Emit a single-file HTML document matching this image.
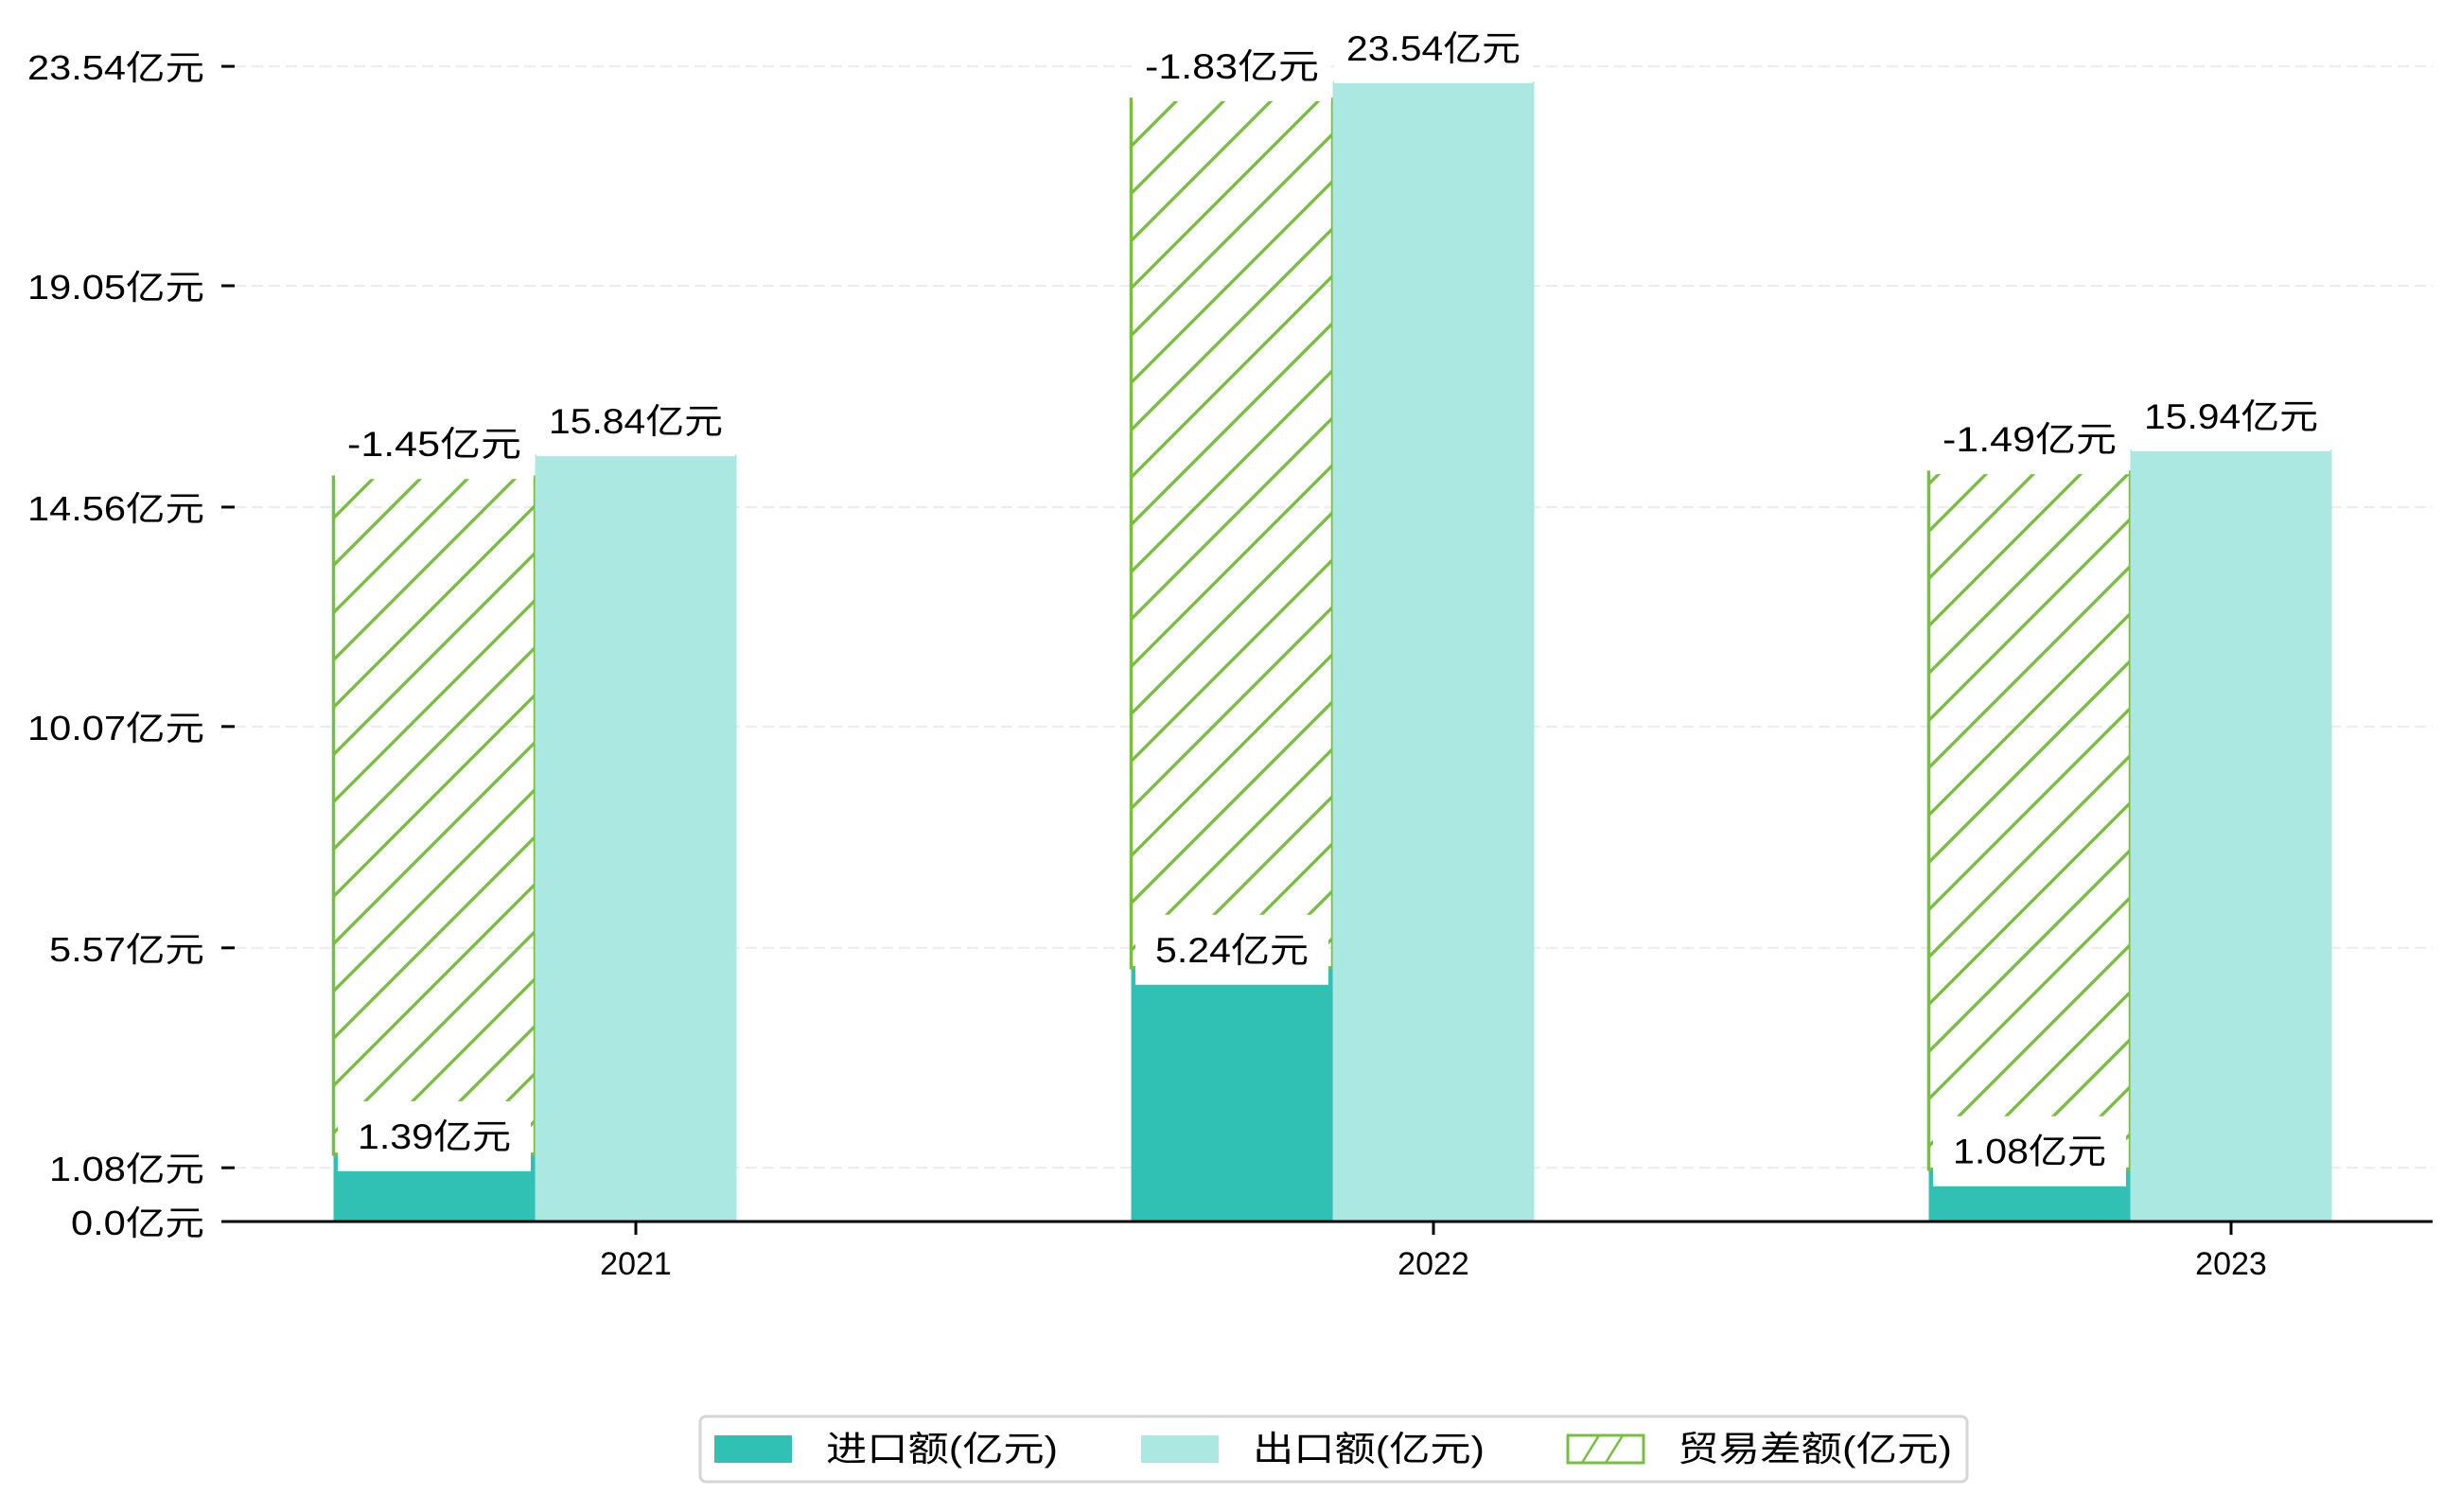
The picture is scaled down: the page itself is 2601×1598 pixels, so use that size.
<!DOCTYPE html>
<html><head><meta charset="utf-8"><style>
html,body{margin:0;padding:0;background:#fff;}
svg{display:block;}
text{font-family:"Liberation Sans","Noto Sans CJK SC",sans-serif;fill:#000;}
</style></head><body>
<svg id="chart" width="2601" height="1598" viewBox="0 0 2601 1598" xmlns="http://www.w3.org/2000/svg">
<defs>
<pattern id="hatch" patternUnits="userSpaceOnUse" width="50" height="50">
<path d="M0,50 L50,0 M-10,10 L10,-10 M40,60 L60,40" stroke="#78be42" stroke-width="3.4"/>
</pattern>
</defs>
<g id="grid"></g>
<g id="bars"></g>
<g id="labels"></g>
<g id="axes"></g>
<g>
<rect x="740" y="1497" width="1339" height="69" rx="6" fill="#fff" stroke="#d6d6d6" stroke-width="3"/>
<g>
<rect x="755" y="1517" width="82" height="29" fill="#30c0b4"/>
<text x="873" y="1544" font-size="37" textLength="245" lengthAdjust="spacingAndGlyphs">进口额(亿元)</text></g>
<g>
<rect x="1206" y="1517" width="82" height="29" fill="#abe8e2"/>
<text x="1324" y="1544" font-size="37" textLength="245" lengthAdjust="spacingAndGlyphs">出口额(亿元)</text></g>
<g>
<rect x="1657" y="1517" width="80" height="29" fill="#fff" stroke="#78be42" stroke-width="3"/>
<path d="M1672,1546 L1690,1517 M1697,1546 L1715,1517" stroke="#78be42" stroke-width="2.5"/>
<text x="1773" y="1544" font-size="37" textLength="290" lengthAdjust="spacingAndGlyphs">贸易差额(亿元)</text></g>
</g>
</svg>
<script>
const categories = ["2021", "2022", "2023"];
const importValues = [1.39, 5.24, 1.08];
const exportValues = [15.84, 23.54, 15.94];
const balanceValues = [-1.45, -1.83, -1.49];
const balanceBarTop = [15.37, 23.17, 15.47];
const tickValues = [0, 1.11, 5.65, 10.22, 14.75, 19.32, 23.85];
const tickLabels = ["0.0亿元", "1.08亿元", "5.57亿元", "10.07亿元", "14.56亿元", "19.05亿元", "23.54亿元"];

const NS = "http://www.w3.org/2000/svg";
const X0 = 248, X1 = 2571, BASE = 1291, SCALE = 51.19;
const y = v => BASE - v * SCALE;
const cx = i => 672 + i * 843;
const BW = 213;
function mk(tag, attrs, parent) {
  const e = document.createElementNS(NS, tag);
  for (const k in attrs) e.setAttribute(k, attrs[k]);
  parent.appendChild(e);
  return e;
}
const grid = document.getElementById('grid');
const bars = document.getElementById('bars');
const labels = document.getElementById('labels');
const axes = document.getElementById('axes');

tickValues.forEach((v, i) => {
  if (v > 0) {
    const g = mk('line', {x1: X0, x2: X1, y1: y(v), y2: y(v), stroke: '#ececec', 'stroke-width': 2, 'stroke-dasharray': '12,6'}, grid);
    
    
  }
  const t = mk('line', {x1: X0 - 14, x2: X0, y1: y(v), y2: y(v), stroke: '#000', 'stroke-width': 3}, axes);
  
  
  const lab = mk('text', {x: 216, y: y(v) + 14, 'font-size': 36, 'text-anchor': 'end', textLength: (tickLabels[i].length - 2) * 23 + 72, lengthAdjust: 'spacingAndGlyphs'}, axes);
  lab.textContent = tickLabels[i];
  
  
});

function labelBox(text, x, cy, w) {
  const r = mk('rect', {x: x - w / 2, y: cy - 36, width: w, height: 74, fill: '#fff'}, labels);
  
  
  const t = mk('text', {x: x, y: cy + 14, 'font-size': 37, 'text-anchor': 'middle', textLength: (text.length - 2) * 22 + 74, lengthAdjust: 'spacingAndGlyphs'}, labels);
  t.textContent = text;
  
  
}

categories.forEach((c, i) => {
  const c0 = cx(i);
  const xl = c0 - 1.5 * BW, xr = c0 - 0.5 * BW;
  const ib = mk('rect', {x: xl, y: y(importValues[i]), width: BW, height: BASE - y(importValues[i]), fill: '#30c0b4'}, bars);
  
  
  const hy0 = y(balanceBarTop[i]), hy1 = y(importValues[i]);
  const hb = mk('rect', {x: xl, y: hy0, width: BW, height: hy1 - hy0, fill: 'url(#hatch)', stroke: '#78be42', 'stroke-width': 3.5}, bars);
  
  
  const eb = mk('rect', {x: xr, y: y(exportValues[i]), width: BW, height: BASE - y(exportValues[i]), fill: '#abe8e2'}, bars);
  
  

  labelBox(importValues[i].toFixed(2) + '亿元', xl + BW / 2, y(importValues[i]) - 20, 204);
  labelBox(balanceValues[i].toFixed(2) + '亿元', xl + BW / 2, hy0 - 36, 210);
  labelBox(exportValues[i].toFixed(2) + '亿元', xr + BW / 2, y(exportValues[i]) - 36, 210);

  const xt = mk('line', {x1: c0, x2: c0, y1: BASE, y2: BASE + 14, stroke: '#000', 'stroke-width': 3}, axes);
  
  
  const xl2 = mk('text', {x: c0, y: 1347, 'font-size': 34, 'text-anchor': 'middle'}, axes);
  xl2.textContent = c;
  
  
});
const ax = mk('line', {x1: X0 - 14, x2: X1, y1: BASE, y2: BASE, stroke: '#000', 'stroke-width': 3}, axes);


</script>
</body></html>
